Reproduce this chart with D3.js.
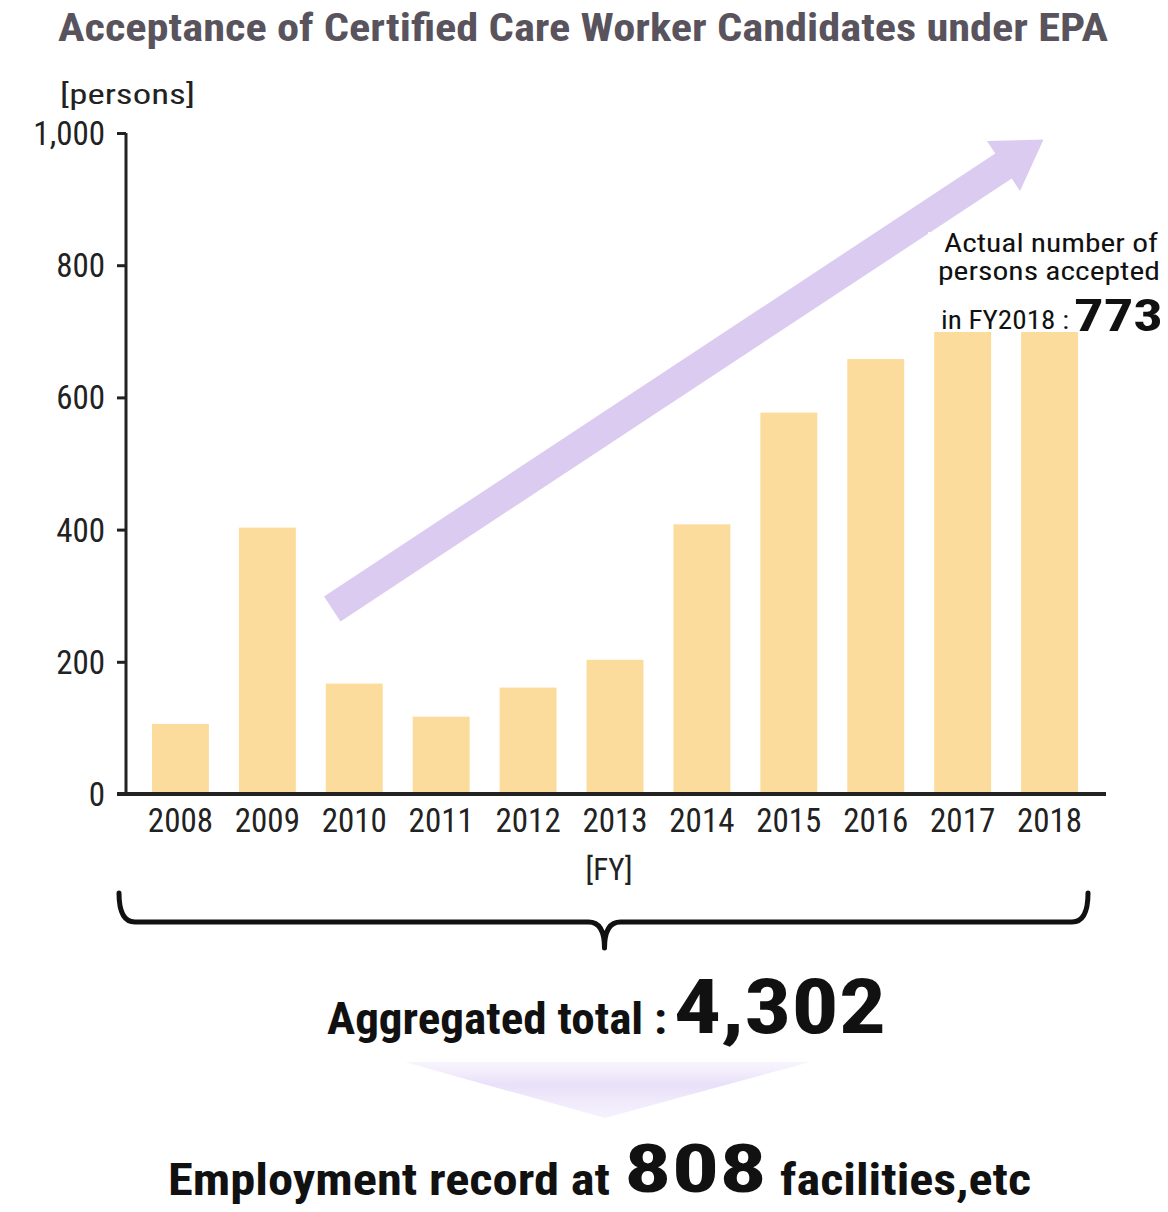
<!DOCTYPE html>
<html>
<head>
<meta charset="utf-8">
<script src="https://cdn.jsdelivr.net/npm/d3@7"></script>
<style>
  html, body { margin: 0; padding: 0; background: #fff; }
  svg { display: block; }
  text { font-family: "Liberation Sans Narrow", "Roboto Condensed", "DejaVu Sans Condensed", "Liberation Sans", sans-serif; }
</style>
</head>
<body>
<svg id="chart"></svg>
<script>
// Data
const YEARS = ['2008', '2009', '2010', '2011', '2012', '2013', '2014', '2015', '2016', '2017', '2018'];
const ACCEPTED = [106, 403, 167, 117, 161, 203, 408, 577, 658, 740, 773];
const Y_TICKS = [0, 200, 400, 600, 800, 1000];
const TOTAL = '4,302';
const FACILITIES = '808';
// trend arrow, in data units [year, persons]
const ARROW_FROM = ['2010', 280];
const ARROW_TO = ['2018', 990];

const width = 1168, height = 1212;
const svg = d3.select('#chart').attr('width', width).attr('height', height);

const x = d3.scaleBand().domain(YEARS).range([122, 1108]).padding(0.345);
const y = d3.scaleLinear().domain([0, 1000]).range([794, 133]);
const axisX = 126;

// Title
svg.append('text')
    .attr('x', 58).attr('y', 41)
    .attr('textLength', 1050).attr('lengthAdjust', 'spacingAndGlyphs')
    .attr('fill', '#58535c')
    .style('font-size', '38px').style('font-weight', 'bold')
    .text('Acceptance of Certified Care Worker Candidates under EPA');

svg.append('text')
    .attr('x', 60).attr('y', 104)
    .attr('textLength', 135).attr('lengthAdjust', 'spacingAndGlyphs')
    .attr('fill', '#222')
    .style('font-size', '28px')
    .text('[persons]');

// Bars
svg.append('g').selectAll('rect')
    .data(YEARS.map((yr, i) => ({yr, v: ACCEPTED[i]})))
    .join('rect')
    .attr('x', d => x(d.yr))
    .attr('y', d => y(d.v))
    .attr('width', x.bandwidth())
    .attr('height', d => y(0) - y(d.v))
    .attr('fill', '#fcdc9c');

// Trend arrow
(function drawArrow() {
    const x0 = x(ARROW_FROM[0]) + x.bandwidth() / 2 - 22, y0 = y(ARROW_FROM[1]);
    const x1 = x(ARROW_TO[0]) + x.bandwidth() / 2 - 6, y1 = y(ARROW_TO[1]);
    const ang = Math.atan2(y1 - y0, x1 - x0);
    const len = Math.hypot(x1 - x0, y1 - y0);
    const sw = 15, hw = 30, hl = 48;
    const pts = [[0, -sw], [len - hl, -sw], [len - hl, -hw], [len, 0], [len - hl, hw], [len - hl, sw], [0, sw]];
    svg.append('polygon')
        .attr('points', pts.map(p => p.join(',')).join(' '))
        .attr('transform', `translate(${x0},${y0}) rotate(${ang * 180 / Math.PI})`)
        .attr('fill', '#dccbf0');
})();

// Y axis
const gy = svg.append('g').attr('transform', `translate(${axisX},0)`)
    .call(d3.axisLeft(y).tickValues(Y_TICKS).tickSize(9).tickPadding(12).tickFormat(d3.format(',')));
gy.select('.domain').attr('stroke', '#222').attr('stroke-width', 3).attr('d', `M0,${y(1000)}V${y(0)}`);
gy.selectAll('.tick line').attr('stroke', '#222').attr('stroke-width', 3);
gy.selectAll('.tick text')
    .attr('fill', '#222')
    .style('font-size', '33px')
    .attr('dy', '0.35em');

// X axis
const gx = svg.append('g').attr('transform', `translate(0,${y(0)})`)
    .call(d3.axisBottom(x).tickSize(0).tickPadding(12));
gx.select('.domain').attr('stroke', '#222').attr('stroke-width', 4).attr('d', `M117,0H1106`);
gx.selectAll('.tick text')
    .attr('fill', '#222')
    .style('font-size', '33px')
    .attr('dy', '0.8em');

svg.append('text')
    .attr('x', x('2013') + x.bandwidth() / 2 - 6).attr('y', 880)
    .attr('text-anchor', 'middle')
    .attr('fill', '#222')
    .style('font-size', '31px')
    .text('[FY]');

// Annotation for 2018
const ann = svg.append('g');
ann.append('rect')
    .attr('x', x('2017') - 6).attr('y', 232)
    .attr('width', x('2018') + x.bandwidth() - x('2017') + 12).attr('height', 100)
    .attr('fill', '#fff');
ann.append('text').attr('x', 1158).attr('y', 252).attr('text-anchor', 'end')
    .attr('textLength', 214).attr('lengthAdjust', 'spacingAndGlyphs')
    .attr('fill', '#111').style('font-size', '25px')
    .text('Actual number of');
ann.append('text').attr('x', 1160).attr('y', 280).attr('text-anchor', 'end')
    .attr('textLength', 222).attr('lengthAdjust', 'spacingAndGlyphs')
    .attr('fill', '#111').style('font-size', '25px')
    .text('persons accepted');
ann.append('text').attr('x', 941).attr('y', 329)
    .attr('textLength', 128).attr('lengthAdjust', 'spacingAndGlyphs')
    .attr('fill', '#111').style('font-size', '26px')
    .text('in FY2018 :');
ann.append('text').attr('x', 1074).attr('y', 331)
    .attr('textLength', 89).attr('lengthAdjust', 'spacingAndGlyphs')
    .attr('fill', '#111').style('font-size', '44px').style('font-weight', 'bold')
    .text(ACCEPTED[ACCEPTED.length - 1]);

// Brace under the axis
(function drawBrace() {
    const x0 = 119, x1 = x('2018') + x.bandwidth() + 10;
    const cx = (x0 + x1) / 2 + 1;
    const yTop = 893, yMid = 922, yTip = 948, r = 16;
    const p = d3.path();
    p.moveTo(x0, yTop);
    p.quadraticCurveTo(x0, yMid, x0 + r, yMid);
    p.lineTo(cx - r, yMid);
    p.quadraticCurveTo(cx, yMid, cx, yTip);
    p.quadraticCurveTo(cx, yMid, cx + r, yMid);
    p.lineTo(x1 - r, yMid);
    p.quadraticCurveTo(x1, yMid, x1, yTop);
    svg.append('path').attr('d', p.toString())
        .attr('fill', 'none').attr('stroke', '#111').attr('stroke-width', 5)
        .attr('stroke-linecap', 'round').attr('stroke-linejoin', 'round');
})();

// Totals
svg.append('text').attr('x', 327).attr('y', 1034)
    .attr('textLength', 340).attr('lengthAdjust', 'spacingAndGlyphs')
    .attr('fill', '#111').style('font-size', '44px').style('font-weight', 'bold')
    .text('Aggregated total :');
svg.append('text').attr('x', 674).attr('y', 1033)
    .attr('textLength', 212).attr('lengthAdjust', 'spacingAndGlyphs')
    .attr('fill', '#111').style('font-size', '76px').style('font-weight', 'bold')
    .text(TOTAL);

// Soft down arrow
const defs = svg.append('defs');
const grad = defs.append('linearGradient').attr('id', 'downGrad')
    .attr('x1', 0).attr('y1', 0).attr('x2', 0).attr('y2', 1);
grad.append('stop').attr('offset', '0%').attr('stop-color', '#f3eefc').attr('stop-opacity', 0.6);
grad.append('stop').attr('offset', '40%').attr('stop-color', '#e9e0f9').attr('stop-opacity', 1);
grad.append('stop').attr('offset', '100%').attr('stop-color', '#f1ecfb').attr('stop-opacity', 0.7);
svg.append('polygon')
    .attr('points', '405,1062 810,1062 605,1118')
    .attr('fill', 'url(#downGrad)');

svg.append('text').attr('x', 168).attr('y', 1195)
    .attr('textLength', 442).attr('lengthAdjust', 'spacingAndGlyphs')
    .attr('fill', '#111').style('font-size', '44px').style('font-weight', 'bold')
    .text('Employment record at');
svg.append('text').attr('x', 624).attr('y', 1192)
    .attr('textLength', 143).attr('lengthAdjust', 'spacingAndGlyphs')
    .attr('fill', '#111').style('font-size', '66px').style('font-weight', 'bold')
    .text(FACILITIES);
svg.append('text').attr('x', 780).attr('y', 1195)
    .attr('textLength', 251).attr('lengthAdjust', 'spacingAndGlyphs')
    .attr('fill', '#111').style('font-size', '44px').style('font-weight', 'bold')
    .text('facilities,etc');
</script>
</body>
</html>
